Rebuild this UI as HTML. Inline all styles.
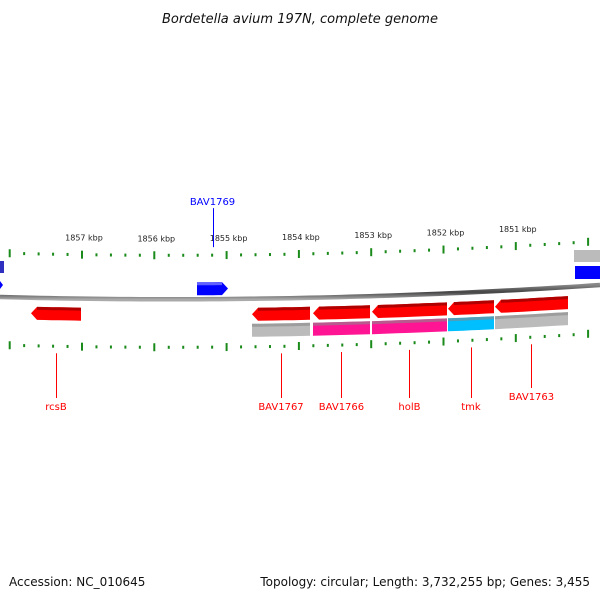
<!DOCTYPE html>
<html><head><meta charset="utf-8"><style>
html,body{margin:0;padding:0;background:#fff;}
svg{display:block;font-family:"DejaVu Sans","Liberation Sans",sans-serif;}
</style></head><body>
<svg id="map" width="600" height="600" viewBox="0 0 600 600">
<defs>
<linearGradient id="bb" x1="0" y1="0" x2="0" y2="1"><stop offset="0" stop-color="#888"/><stop offset="0.5" stop-color="#444"/><stop offset="1" stop-color="#aaa"/></linearGradient>
</defs>
<text x="300" y="23" text-anchor="middle" font-size="13" font-style="italic" fill="#111">Bordetella avium 197N, complete genome</text>
<g id="ticks"></g>
<g id="bbg"></g>
<g id="genes"></g>
<g id="labels"></g>
<text x="9" y="586" font-size="12" fill="#111">Accession: NC_010645</text>
<text x="590" y="586" font-size="12" text-anchor="end" fill="#111">Topology: circular; Length: 3,732,255 bp; Genes: 3,455</text>
</svg>
<script>
const tickKbp=[1857,1856,1855,1854,1853,1852,1851];
const geneNames=["rcsB","BAV1767","BAV1766","holB","tmk","BAV1763","BAV1769"];
const geneStart=[1857.014,1853.846,1853.017,1851.952,1851.302,1850.278,1854.981];
const geneEnd=[1857.705,1854.649,1853.805,1852.989,1851.938,1851.288,1855.409];
const geneStrand=[-1,-1,-1,-1,-1,-1,1];
const geneCogColor=[null,"#bbb","#ff1493","#ff1493","#00bfff","#bbb",null];
const labelLevel=[0,0,0,0,0,1,0];

const NS="http://www.w3.org/2000/svg";
function kx(k){return 82+(1857-k)*72.3;}
function base(x){return 297+0.0267*x-7.78e-5*x*x;}
function mk(tag,attrs,parent){const e=document.createElementNS(NS,tag);for(const k in attrs)e.setAttribute(k,attrs[k]);parent.appendChild(e);return e;}
const T=document.getElementById('ticks'),B=document.getElementById('bbg'),G=document.getElementById('genes'),L=document.getElementById('labels');

let d="";for(let x=0;x<=600;x+=10){d+=(x?"L":"M")+x+","+base(x).toFixed(2);}
const bp=mk('path',{d:d,stroke:"url(#bb)","stroke-width":4.5,fill:"none"},B);



for(let k=1858.0;k>=1849.8;k-=0.2){
  const kk=Math.round(k*10)/10;const x=kx(kk);if(x<0||x>600)continue;
  const major=Math.abs(kk-Math.round(kk))<0.01;
  [-44,48].forEach(off=>{
    const y=base(x)+off;const h=major?8:3;
    const t=mk('rect',{x:x-1,y:y-h/2,width:2,height:h,fill:"#1a8a1a"},T);
    
    
  });
}
tickKbp.forEach(k=>{
  const x=kx(k);
  const t=mk('text',{x:x+2,y:base(x)-58,"font-size":8,"text-anchor":"middle",fill:"#222"},T);
  t.textContent=k+" kbp";
  
  
});

function gpoly(x1,x2,y0,h,dir,head){
  const pts=[];const n=6;
  const a=dir<0?x1+head:x1, b=dir>0?x2-head:x2;
  for(let i=0;i<=n;i++){const x=a+(b-a)*i/n;pts.push([x,base(x)+y0]);}
  if(dir>0)pts.push([x2,base(x2)+y0+h/2]);
  for(let i=n;i>=0;i--){const x=a+(b-a)*i/n;pts.push([x,base(x)+y0+h]);}
  if(dir<0)pts.push([x1,base(x1)+y0+h/2]);
  return pts.map(p=>p[0].toFixed(1)+","+p[1].toFixed(1)).join(" ");
}
for(let i=0;i<geneNames.length;i++){
  const x1=kx(geneEnd[i]),x2=kx(geneStart[i]);const dir=geneStrand[i];
  const col=dir>0?"#0000ff":"#ff0000";
  const y0=dir>0?-17:9;
  const g=mk('polygon',{points:gpoly(x1,x2,y0,13,dir,6),fill:col},G);
  
  
  mk('polygon',{points:gpoly(x1+(dir<0?6:0),x2-(dir>0?6:0),y0,3,0,0),fill:dir>0?"#6060ff":"#b00000"},G);
  if(geneCogColor[i]){
    const c=mk('polygon',{points:gpoly(x1,x2,y0+16,13,0,0),fill:geneCogColor[i]},G);
    
    
    mk('polygon',{points:gpoly(x1,x2,y0+16,3,0,0),fill:"#888",opacity:0.6},G);
  }
  const mx=(x1+x2)/2;
  const lx=Math.round(mx)+0.5;
  const lc=dir>0?"#0000ff":"#ff0000";
  let ly1,ly2,ty;
  if(dir>0){ly1=base(mx)-52;ly2=base(mx)-91;ty=ly2-3;}
  else{ly1=base(mx)+55;ly2=(labelLevel[i]?388:398);ty=ly2+12;}
  const ln=mk('line',{x1:lx,y1:ly1,x2:lx,y2:ly2,stroke:lc,"stroke-width":1},L);
  
  
  const t=mk('text',{x:mx,y:ty,"font-size":10,"text-anchor":"middle",fill:lc},L);
  t.textContent=geneNames[i];
  
  
}
const e1=mk('rect',{x:574,y:250,width:26,height:12,fill:"#bbb"},G);

const e2=mk('rect',{x:575,y:266,width:25,height:13,fill:"#0000ff"},G);

const e3=mk('rect',{x:0,y:261,width:4,height:12,fill:"#3030c0"},G);

const e4=mk('polygon',{points:"0,281 3,285 0,289",fill:"#0000ff"},G);

</script>
</body></html>
